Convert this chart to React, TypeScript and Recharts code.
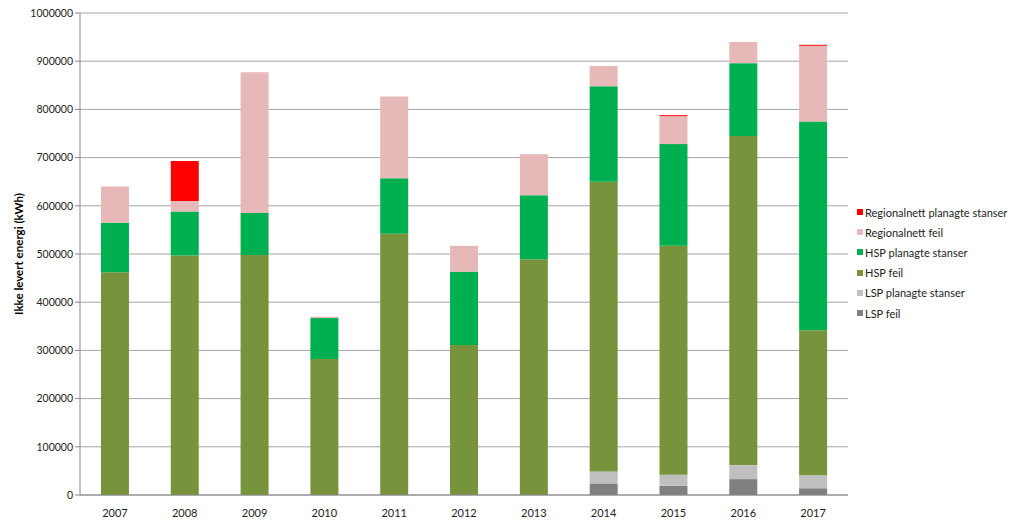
import { BarChart, Bar, XAxis, YAxis, CartesianGrid, Legend } from 'recharts'

const years = ['2007', '2008', '2009', '2010', '2011', '2012', '2013', '2014', '2015', '2016', '2017']
const lspFeil = [0, 0, 0, 0, 0, 0, 0, 24000, 19000, 33000, 14000]
const lspPlan = [0, 0, 0, 0, 0, 0, 0, 25000, 23000, 29000, 27000]
const hspFeil = [462000, 497000, 498000, 282000, 542000, 311000, 489000, 601000, 475000, 683000, 301000]
const hspPlan = [103000, 91000, 87000, 85000, 115000, 152000, 133000, 198000, 211000, 151000, 433000]
const regFeil = [75000, 22000, 292000, 3000, 170000, 54000, 85000, 42000, 58000, 44000, 157000]
const regPlan = [0, 83000, 0, 0, 0, 0, 0, 0, 2000, 0, 2000]
const yTicks = [0, 100000, 200000, 300000, 400000, 500000, 600000, 700000, 800000, 900000, 1000000]

const series = [
  { key: 'lspFeil', name: 'LSP feil', color: '#808080' },
  { key: 'lspPlan', name: 'LSP planagte stanser', color: '#bfbfbf' },
  { key: 'hspFeil', name: 'HSP feil', color: '#77933c' },
  { key: 'hspPlan', name: 'HSP planagte stanser', color: '#00b050' },
  { key: 'regFeil', name: 'Regionalnett feil', color: '#e6b9b8' },
  { key: 'regPlan', name: 'Regionalnett planagte stanser', color: '#ff0000' },
]

const data = years.map((y, i) => ({
  year: y,
  lspFeil: lspFeil[i],
  lspPlan: lspPlan[i],
  hspFeil: hspFeil[i],
  hspPlan: hspPlan[i],
  regFeil: regFeil[i],
  regPlan: regPlan[i],
}))

const font = 'Lato, "Open Sans", sans-serif'

function LegendBox() {
  return (
    <div style={{ fontFamily: font, fontSize: 11, color: '#222' }}>
      {[...series].reverse().map((s) => (
        <div key={s.key} style={{ display: 'flex', alignItems: 'center', height: 20.2 }}>
          <span style={{ width: 6, height: 6, background: s.color, marginRight: 2 }} />
          <span>{s.name}</span>
        </div>
      ))}
    </div>
  )
}

export default function App() {
  return (
    <div style={{ margin: -8, width: 1024, height: 525, background: '#fff', position: 'relative' }}>
      <BarChart
        width={1024}
        height={525}
        data={data}
        margin={{ top: 13, right: 176, left: 0, bottom: 0 }}
        barCategoryGap="30%"
      >
        <CartesianGrid vertical={false} stroke="#a6a6a6" />
        <XAxis
          dataKey="year"
          height={30}
          stroke="#868686"
          tickLine={false}
          tick={{ fill: '#222', fontSize: 11, fontFamily: font }}
          tickMargin={8}
        />
        <YAxis
          width={80}
          domain={[0, 1000000]}
          ticks={yTicks}
          interval={0}
          stroke="#868686"
          tickSize={5}
          tick={{ fill: '#222', fontSize: 10.5, fontFamily: font }}
          label={{
            value: 'Ikke levert energi (kWh)',
            angle: -90,
            position: 'insideLeft',
            dx: 14,
            style: { textAnchor: 'middle', fontWeight: 700, fontSize: 11.5, fontFamily: font, fill: '#000' },
          }}
        />
        <Legend
          layout="vertical"
          align="center"
          verticalAlign="middle"
          wrapperStyle={{ left: 857, top: 202, width: 167 }}
          content={() => <LegendBox />}
        />
        {series.map((s) => (
          <Bar key={s.key} dataKey={s.key} name={s.name} stackId="a" fill={s.color} isAnimationActive={false} />
        ))}
      </BarChart>
    </div>
  )
}
